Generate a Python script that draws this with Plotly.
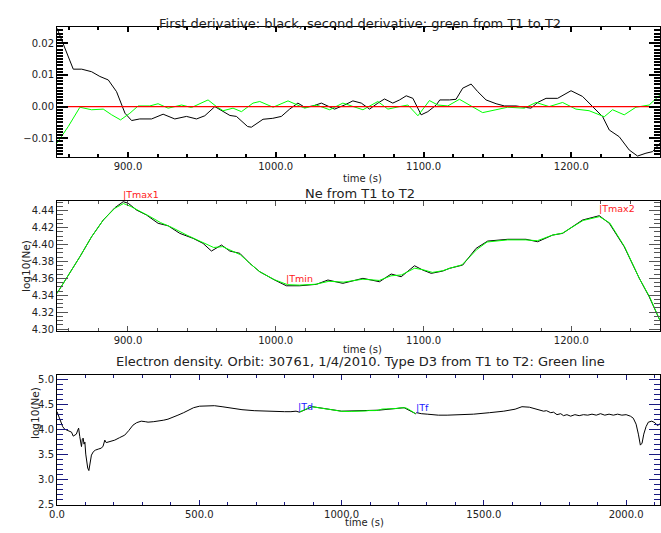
import plotly.graph_objects as go

# ---------------- data ----------------
d1_t = [852, 863, 868.7, 875.4, 881, 886.7, 892.3, 898, 902.5, 908, 916, 923.8, 931.7, 939.6, 946.4, 952,
        958.8, 962, 969, 973.4, 981, 983.5, 991.4, 998, 1003.8, 1009.4, 1015, 1019.6, 1025.2, 1030.9,
        1039.8, 1046.6, 1052.2, 1057.9, 1063.5, 1069.1, 1073.6, 1079.2, 1083.8, 1088.3, 1092.8, 1098.4,
        1102.9, 1108.6, 1111, 1117.5, 1122, 1126.5, 1132.2, 1136.7, 1142.3, 1149.1, 1154.7, 1162.6,
        1168.2, 1172.7, 1177.2, 1182.9, 1190.7, 1199.8, 1207.6, 1214.4, 1221.2, 1225.7, 1232.4, 1239.2,
        1244.8, 1250.5, 1255, 1260]
d1_v = [0.0247, 0.0118, 0.0118, 0.0110, 0.0095, 0.0084, 0.0047, -0.0021, -0.0044, -0.0039, -0.0039,
        -0.0024, -0.0039, -0.0031, -0.0039, -0.0029, 0.0000, -0.0008, -0.0028, -0.0031, -0.0063, -0.0065,
        -0.0040, -0.0037, -0.0031, -0.0008, 0.0011, -0.0002, 0.0002, 0.0011, -0.0008, 0.0005, 0.0018,
        0.0011, -0.0008, 0.0011, 0.0024, 0.0011, 0.0021, 0.0034, 0.0026, -0.0026, -0.0016, 0.0005, 0.0021,
        0.0021, 0.0023, 0.0058, 0.0071, 0.0047, 0.0021, 0.0009, 0.0002, 0.0002, -0.0002, -0.0005, 0.0013,
        0.0026, 0.0026, 0.0050, 0.0032, 0.0000, -0.0032, -0.0074, -0.0095, -0.0137, -0.0156, -0.0147,
        -0.0142, -0.0115]
d2_t = [852, 859.6, 867.5, 875.4, 883.3, 889, 895, 901.3, 906.9, 914.8, 920.4, 927.2, 936.3, 943, 954.2,
        959.9, 964.4, 971.1, 976.8, 984.6, 989.2, 998.2, 1008.3, 1019.6, 1027.5, 1036.5, 1045.4, 1059,
        1069.1, 1075.9, 1083.8, 1089.4, 1096.2, 1104, 1109.6, 1116.4, 1124.3, 1131, 1140, 1149, 1156.9,
        1168.2, 1176.1, 1185, 1194.1, 1203.1, 1212, 1222.3, 1227.9, 1235.8, 1243.7, 1252.7, 1260]
d2_v = [-0.0115, -0.0063, -0.0002, -0.0010, -0.0008, -0.0026, -0.0042, -0.0021, 0.0002, 0.0002, 0.0009,
        -0.0005, 0.0005, -0.0003, 0.0021, 0.0000, -0.0013, -0.0005, -0.0016, 0.0011, 0.0016, -0.0002,
        0.0018, -0.0005, 0.0005, -0.0010, 0.0011, -0.0010, 0.0016, -0.0008, 0.0000, 0.0005, -0.0029,
        0.0019, 0.0005, 0.0002, 0.0023, 0.0005, -0.0019, -0.0010, -0.0002, -0.0005, 0.0013, 0.0000, 0.0013,
        -0.0008, -0.0013, -0.0032, -0.0010, -0.0026, -0.0002, 0.0005, 0.0037]
ne_t = [852, 858.5, 867.5, 875.4, 883.3, 891.2, 896.8, 900.2, 905.8, 912.6, 920.4, 927.2, 935.1, 944.1,
        950.8, 956.5, 963.3, 968.9, 975.7, 982.4, 989.2, 999.3, 1007.2, 1016.2, 1027.5, 1035.3, 1045.4,
        1059, 1070.2, 1078.1, 1084.9, 1093.9, 1099.5, 1105.2, 1113, 1117.5, 1126.5, 1135.6, 1143.4, 1157,
        1169.3, 1177.2, 1187.4, 1194.1, 1207.6, 1218.9, 1225.7, 1235.8, 1246, 1252.7, 1260]
ne_v = [4.3422, 4.3600, 4.3856, 4.4092, 4.4290, 4.4436, 4.4507, 4.4488, 4.4408, 4.4349, 4.4251, 4.4222,
        4.4132, 4.4073, 4.4014, 4.3923, 4.3994, 4.3923, 4.3896, 4.3778, 4.3678, 4.3580, 4.3512, 4.3512,
        4.3529, 4.3580, 4.3541, 4.3600, 4.3560, 4.3651, 4.3619, 4.3749, 4.3698, 4.3659, 4.3686, 4.3718,
        4.3757, 4.3955, 4.4041, 4.4062, 4.4062, 4.4033, 4.4112, 4.4132, 4.4290, 4.4341, 4.4251, 4.3974,
        4.3600, 4.3382, 4.3100]
nes_t = [852, 858.5, 867.5, 875.4, 883.3, 891.2, 897, 902, 908, 915, 922, 930, 940, 950, 958, 964, 970,
         976, 982.4, 989, 999, 1008, 1016, 1027, 1036, 1046, 1059, 1070, 1078, 1085, 1094, 1100, 1106,
         1113, 1118, 1126, 1136, 1143, 1157, 1169, 1177, 1187, 1194, 1208, 1219, 1226, 1236, 1246, 1253, 1260]
nes_v = [4.3422, 4.3600, 4.3856, 4.4092, 4.4290, 4.4430, 4.4485, 4.4450, 4.4390, 4.4330, 4.4260, 4.4200,
         4.4110, 4.4030, 4.3965, 4.3975, 4.3930, 4.3880, 4.3778, 4.3680, 4.3585, 4.3525, 4.3520, 4.3530,
         4.3565, 4.3555, 4.3590, 4.3575, 4.3630, 4.3640, 4.3720, 4.3700, 4.3670, 4.3690, 4.3720, 4.3760,
         4.3940, 4.4030, 4.4055, 4.4055, 4.4045, 4.4110, 4.4135, 4.4285, 4.4330, 4.4255, 4.3975, 4.3600,
         4.3380, 4.3100]
orb_t = [0, 5, 10, 20, 27, 40, 51, 57, 62, 68, 73, 76, 80, 84, 86, 89, 92, 95, 98, 101, 104, 108, 112,
         116, 121, 128, 135, 145, 156, 162, 168, 173, 179, 190, 203, 220, 238, 252, 267, 280, 296, 310,
         320, 340, 355, 375, 390, 410, 425, 445, 460, 480, 501, 530, 553, 580, 612, 650, 693, 730, 764,
         800, 822, 840, 852, 897, 1000, 1130, 1220, 1260, 1264, 1280, 1301, 1340, 1371, 1420, 1464, 1520,
         1570, 1610, 1634, 1660, 1687, 1700, 1710, 1720, 1735, 1745, 1757, 1770, 1780, 1792, 1805, 1820,
         1835, 1850, 1865, 1880, 1895, 1910, 1925, 1940, 1955, 1970, 1985, 2000, 2015, 2025, 2035, 2043,
         2050, 2056, 2062, 2070, 2078, 2090, 2101, 2110, 2116, 2122]
orb_v = [4.35, 4.28, 4.18, 4.05, 4.00, 3.97, 3.94, 3.86, 3.88, 3.90, 3.98, 4.02, 3.85, 3.72, 3.65, 3.80,
         3.82, 3.70, 3.74, 3.50, 3.35, 3.22, 3.17, 3.30, 3.48, 3.55, 3.58, 3.60, 3.62, 3.66, 3.78, 3.73,
         3.74, 3.75, 3.78, 3.83, 3.88, 3.97, 4.08, 4.13, 4.16, 4.15, 4.14, 4.15, 4.16, 4.18, 4.20, 4.24,
         4.28, 4.33, 4.38, 4.43, 4.46, 4.47, 4.47, 4.45, 4.42, 4.39, 4.37, 4.36, 4.35, 4.35, 4.35, 4.36,
         4.34, 4.45, 4.36, 4.38, 4.43, 4.31, 4.33, 4.31, 4.30, 4.28, 4.28, 4.29, 4.30, 4.33, 4.36, 4.40,
         4.45, 4.44, 4.40, 4.38, 4.36, 4.37, 4.33, 4.34, 4.29, 4.31, 4.27, 4.29, 4.26, 4.29, 4.27, 4.29,
         4.28, 4.30, 4.28, 4.31, 4.28, 4.30, 4.28, 4.30, 4.28, 4.29, 4.26, 4.22, 4.10, 3.90, 3.68, 3.72,
         3.90, 4.05, 4.14, 4.16, 4.13, 4.07, 4.10, 4.12]
zero_t = [852, 1260]
zero_v = [0.0, 0.0]

x_tick0, x_dtick, x_minor = 900, 100, 20
y1_tick0, y1_dtick, y1_minor = 0, 0.01, 0.001
y2_tick0, y2_dtick, y2_minor = 4.30, 0.02, 0.005
xb_tick0, xb_dtick, xb_minor = 0, 500, 100
y3_tick0, y3_dtick, y3_minor = 2.5, 0.5, 0.1

W, H = 661, 533
FONT = "DejaVu Sans"
TXT = "#222222"

fig = go.Figure()
fig.add_trace(go.Scatter(x=d1_t, y=d1_v, mode="lines", line=dict(color="#000000", width=1), xaxis="x", yaxis="y"))
fig.add_trace(go.Scatter(x=d2_t, y=d2_v, mode="lines", line=dict(color="#00ff00", width=1), xaxis="x", yaxis="y"))
fig.add_trace(go.Scatter(x=zero_t, y=zero_v, mode="lines", line=dict(color="#ff0000", width=1.2), xaxis="x", yaxis="y"))
fig.add_trace(go.Scatter(x=ne_t, y=ne_v, mode="lines", line=dict(color="#000000", width=1), xaxis="x2", yaxis="y2"))
fig.add_trace(go.Scatter(x=nes_t, y=nes_v, mode="lines", line=dict(color="#00ff00", width=1), xaxis="x2", yaxis="y2"))
fig.add_trace(go.Scatter(x=orb_t, y=orb_v, mode="lines", line=dict(color="#000000", width=1), xaxis="x3", yaxis="y3"))
fig.add_trace(go.Scatter(x=nes_t, y=nes_v, mode="lines", line=dict(color="#00ff00", width=1), xaxis="x3", yaxis="y3"))

xdom = [57 / W, 660 / W]
def ydom(top_px, bot_px):
    return [1 - bot_px / H, 1 - top_px / H]

def xaxis(anchor, rng, t0, dt, mdt, col, tw):
    return dict(domain=xdom, anchor=anchor, range=rng, tickmode="linear", tick0=t0, dtick=dt,
                tickformat=".1f", ticks="inside", ticklen=5, tickwidth=tw, tickcolor=col, showline=True,
                linecolor="#000000", mirror="allticks", showgrid=False, zeroline=False, automargin=False,
                tickfont=dict(family=FONT, size=10, color=TXT),
                minor=dict(dtick=mdt, ticklen=3, tickcolor=col, ticks="inside"))

def yaxis(anchor, dom, rng, t0, dt, fmt, mdt, col, tw):
    return dict(domain=dom, anchor=anchor, range=rng, tickmode="linear", tick0=t0, dtick=dt,
                tickformat=fmt, ticks="inside", ticklen=11, tickwidth=tw, tickcolor=col, showline=True,
                linecolor="#000000", mirror="allticks", showgrid=False, zeroline=False, automargin=False,
                tickfont=dict(family=FONT, size=10, color=TXT),
                minor=dict(dtick=mdt, ticklen=6, tickcolor=col, ticks="inside"))

fig.update_layout(
    template="none",
    width=W, height=H, margin=dict(l=0, r=0, t=0, b=0, autoexpand=False),
    paper_bgcolor="white", plot_bgcolor="white", showlegend=False,
    xaxis=xaxis("y", [852, 1260], x_tick0, x_dtick, x_minor, "#000000", 2),
    yaxis=yaxis("x", ydom(27, 157), [-0.0159, 0.0251], y1_tick0, y1_dtick, ".2f", y1_minor, "#000000", 2),
    xaxis2=xaxis("y2", [852, 1260], x_tick0, x_dtick, x_minor, "#555555", 1),
    yaxis2=yaxis("x2", ydom(201, 331), [4.2977, 4.4515], y2_tick0, y2_dtick, ".2f", y2_minor, "#555555", 1),
    xaxis3=xaxis("y3", [0, 2119], xb_tick0, xb_dtick, xb_minor, "#1a1a80", 1),
    yaxis3=yaxis("x3", ydom(375, 505), [2.48, 5.085], y3_tick0, y3_dtick, ".1f", y3_minor, "#1a1a80", 1),
)

def ptext(x, y, s, size=12, color=TXT, **kw):
    fig.add_annotation(x=x / W, y=1 - y / H, xref="paper", yref="paper", text=s, showarrow=False,
                       font=dict(family=FONT, size=size, color=color), **kw)

ptext(360, 14, "First derivative: black, second derivative: green from T1 to T2", size=13)
ptext(360, 193, "Ne from T1 to T2", size=13)
ptext(360, 371, "Electron density. Orbit: 30761, 1/4/2010. Type D3 from T1 to T2: Green line", size=13)
ptext(362, 178, "time (s)", size=10)
ptext(362, 349, "time (s)", size=10)
ptext(364, 530, "time (s)", size=10)
ptext(18, 266, "log10(Ne)", size=10.5, textangle=-90)
ptext(27, 441, "log10(Ne)", size=10.5, textangle=-90)

def dtext(x, y, s, xr, yr, color, yanchor="bottom"):
    fig.add_annotation(x=x, y=y, xref=xr, yref=yr, text=s, showarrow=False, xanchor="left", yanchor=yanchor,
                       xshift=-2, font=dict(family=FONT, size=9.5, color=color))

dtext(896.8, 4.4507, "|Tmax1", "x2", "y2", "#ff2020")
dtext(1007.2, 4.3512, "|Tmin", "x2", "y2", "#ff2020")
dtext(1218.9, 4.4341, "|Tmax2", "x2", "y2", "#ff2020")
dtext(848, 4.30, "|Td", "x3", "y3", "#2020ff")
dtext(1262, 4.28, "|Tf", "x3", "y3", "#2020ff")

fig.write_html("out.html", config={"displayModeBar": False},
               post_script="document.body.style.margin='0';")
